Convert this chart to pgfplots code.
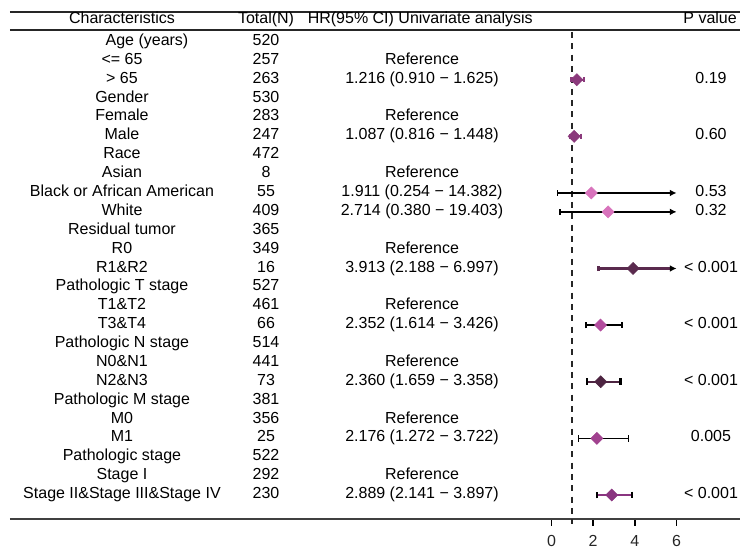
\documentclass[border=0pt]{standalone}
\usepackage{fontspec}
\setmainfont{Liberation Sans}
\usepackage{pgfplots}
\pgfplotsset{compat=1.18}
\usetikzlibrary{arrows.meta}
\definecolor{cA}{HTML}{8B3A7C}
\definecolor{cP}{HTML}{D873BC}
\definecolor{cR}{HTML}{5A2A4E}
\definecolor{cT}{HTML}{B34D9E}
\definecolor{cN}{HTML}{4D2441}
\definecolor{cM}{HTML}{A1428F}
\definecolor{cS}{HTML}{8A3580}
\newcommand{\fs}{\fontsize{12}{14}\selectfont}
% row macro: #1 row index, #2 name, #3 N, #4 HR text, #5 p value
\newcommand{\R}[5]{%
  \node[anchor=mid,font=\fs] at (axis cs:-20.60,-#1) {#2};
  \node[anchor=mid,font=\fs] at (axis cs:-13.69,-#1) {#3};
  \node[anchor=mid,font=\fs] at (axis cs:-6.21,-#1) {#4};
  \node[anchor=mid,font=\fs] at (axis cs:7.65,-#1) {#5};
}
\begin{document}
\begin{tikzpicture}
\useasboundingbox (0,0) rectangle (555pt,-411pt);
\begin{axis}[
  at={(7.5pt,-8.25pt)}, anchor=north west,
  scale only axis, width=547.5pt, height=381pt,
  xmin=-25.97, xmax=9.041, ymin=-26.27, ymax=0.64,
  axis x line*=bottom, axis y line=none, ytick=\empty,
  xtick={0,2,4,6},
  x axis line style={line width=1.5pt, color=black!75},
  tick align=outside, major tick length=5pt,
  tick style={line width=1.2pt, black},
  /pgf/number format/assume math mode=true,
  tick label style={font=\fs, text=black!85},
  xticklabel style={yshift=-3.5pt},
  clip=false,
]
% table rules
\draw[line width=1.8pt, black!85] (axis cs:-25.97,0.6) -- (axis cs:9.041,0.6);
\draw[line width=2pt, black!85] (axis cs:-25.97,-0.364) -- (axis cs:9.041,-0.364);
% header
\node[anchor=mid,font=\fs] at (axis cs:-20.60,0.17) {Characteristics};
\node[anchor=mid,font=\fs] at (axis cs:-13.69,0.17) {Total(N)};
\node[anchor=mid west,font=\fs,inner sep=0pt] at (axis cs:-11.70,0.17) {HR(95\% CI) Univariate analysis};
\node[anchor=mid east,font=\fs,inner sep=0pt] at (axis cs:8.90,0.17) {P value};
% rows
\node[anchor=mid,font=\fs] at (axis cs:-19.40,-1) {Age (years)};
\node[anchor=mid,font=\fs] at (axis cs:-13.69,-1) {520};
\R{2}{<= 65}{257}{Reference}{}
\R{3}{> 65}{263}{1.216 (0.910 − 1.625)}{0.19}
\R{4}{Gender}{530}{}{}
\R{5}{Female}{283}{Reference}{}
\R{6}{Male}{247}{1.087 (0.816 − 1.448)}{0.60}
\R{7}{Race}{472}{}{}
\R{8}{Asian}{8}{Reference}{}
\R{9}{Black or African American}{55}{1.911 (0.254 − 14.382)}{0.53}
\R{10}{White}{409}{2.714 (0.380 − 19.403)}{0.32}
\R{11}{Residual tumor}{365}{}{}
\R{12}{R0}{349}{Reference}{}
\R{13}{R1\&R2}{16}{3.913 (2.188 − 6.997)}{< 0.001}
\R{14}{Pathologic T stage}{527}{}{}
\R{15}{T1\&T2}{461}{Reference}{}
\R{16}{T3\&T4}{66}{2.352 (1.614 − 3.426)}{< 0.001}
\R{17}{Pathologic N stage}{514}{}{}
\R{18}{N0\&N1}{441}{Reference}{}
\R{19}{N2\&N3}{73}{2.360 (1.659 − 3.358)}{< 0.001}
\R{20}{Pathologic M stage}{381}{}{}
\R{21}{M0}{356}{Reference}{}
\R{22}{M1}{25}{2.176 (1.272 − 3.722)}{0.005}
\R{23}{Pathologic stage}{522}{}{}
\R{24}{Stage I}{292}{Reference}{}
\R{25}{Stage II\&Stage III\&Stage IV}{230}{2.889 (2.141 − 3.897)}{< 0.001}
% reference line
\draw[line width=1.6pt, black!85, dash pattern=on 4.5pt off 4pt] (axis cs:1,-0.47) -- (axis cs:1,-26.55);
% whiskers
\addplot[cA, line width=1.6pt, arrows={Bar[width=4pt]-Bar[width=4pt]}] coordinates {(0.910,-3) (1.625,-3)};
\addplot[cA, line width=1.6pt, arrows={Bar[width=4pt]-Bar[width=4pt]}] coordinates {(0.816,-6) (1.448,-6)};
\addplot[black, line width=1.1pt, arrows={Bar[width=4pt]-Latex[length=5pt,width=5pt]}] coordinates {(0.254,-9) (6,-9)};
\addplot[black, line width=1.1pt, arrows={Bar[width=4pt]-Latex[length=5pt,width=5pt]}] coordinates {(0.380,-10) (6,-10)};
\addplot[cR, line width=2pt, arrows={Bar[width=4pt]-Latex[length=5pt,width=5pt,black]}] coordinates {(2.188,-13) (6,-13)};
\addplot[black, line width=1.1pt, arrows={Bar[width=5pt]-Bar[width=5pt]}] coordinates {(1.614,-16) (3.426,-16)};
\addplot[cN, line width=1.6pt, arrows={Bar[width=5pt,black]-Bar[width=5pt,black]}] coordinates {(1.659,-19) (3.358,-19)};
\addplot[black, line width=1.1pt, arrows={Bar[width=5pt]-Bar[width=5pt]}] coordinates {(1.272,-22) (3.722,-22)};
\addplot[cS, line width=1.6pt, arrows={Bar[width=5pt,black]-Bar[width=5pt,black]}] coordinates {(2.141,-25) (3.897,-25)};
% point estimates
\pgfplotsset{pt/.style={only marks, mark=square*, mark size=3.2pt, mark options={rotate=45, draw=#1, fill=#1}}}
\addplot[pt=cA] coordinates {(1.216,-3)};
\addplot[pt=cA] coordinates {(1.087,-6)};
\addplot[pt=cP] coordinates {(1.911,-9)};
\addplot[pt=cP] coordinates {(2.714,-10)};
\addplot[pt=cR] coordinates {(3.913,-13)};
\addplot[pt=cT] coordinates {(2.352,-16)};
\addplot[pt=cN] coordinates {(2.360,-19)};
\addplot[pt=cM] coordinates {(2.176,-22)};
\addplot[pt=cS] coordinates {(2.889,-25)};
\end{axis}
\end{tikzpicture}
\end{document}
